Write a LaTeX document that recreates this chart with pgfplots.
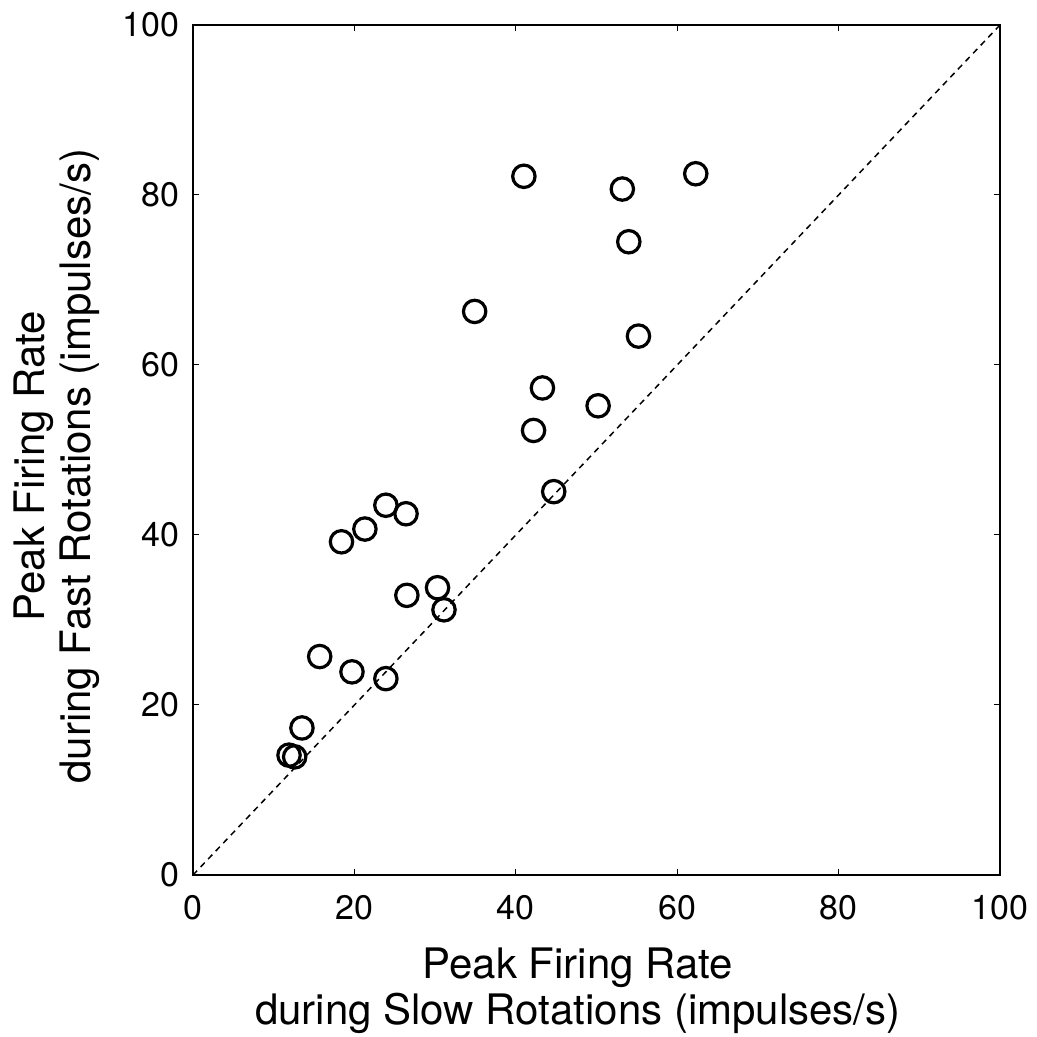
\documentclass[border=0pt]{standalone}
\usepackage{pgfplots}
\pgfplotsset{compat=1.18}
\usepackage{fontspec}
\setmainfont{TeX Gyre Heros}
\begin{document}
\begin{tikzpicture}
\begin{axis}[
  scale only axis,
  width=403.5pt, height=425pt,
  xmin=0, xmax=100, ymin=0, ymax=100,
  xtick={0,20,40,60,80,100}, ytick={0,20,40,60,80,100},
  minor tick num=0,
  tick align=inside,
  major tick length=3pt,
  tick style={line width=0.5pt, black},
  axis line style={line width=1pt},
  /pgf/number format/assume math mode=true,
  ticklabel style={font=\fontsize{17}{20}\selectfont, inner sep=0pt},
  xticklabel shift=10pt,
  yticklabel shift=6.5pt,
  label style={font=\fontsize{21}{23}\selectfont, inner sep=0pt, align=center},
  xlabel={Peak Firing Rate\\during Slow Rotations (impulses/s)},
  ylabel={Peak Firing Rate\\during Fast Rotations (impulses/s)},
  xlabel style={at={([yshift=-36pt]rel axis cs:0.477,0)}, anchor=north},
  ylabel style={at={([xshift=-46.5pt]rel axis cs:0,0.481)}, anchor=south, rotate=0},
]
\addplot[black, line width=0.75pt, dash pattern=on 3pt off 2.5pt] coordinates {(0,0) (100,100)};
\addplot[only marks, mark=o, mark size=5.6pt, mark options={line width=1.6pt, black}] coordinates {
(18.4,39.2) (21.3,40.7) (23.9,43.5) (26.4,42.5)
(26.5,32.9) (30.3,33.8) (31.1,31.2)
(15.7,25.7) (19.7,23.9) (23.9,23.1)
(13.5,17.3) (11.9,14.1) (12.6,13.9)
(41.0,82.2) (53.2,80.7) (62.3,82.5) (54.0,74.5)
(34.9,66.3) (55.2,63.4) (43.3,57.3) (50.2,55.2)
(42.2,52.3) (44.7,45.1)
};
\coordinate (bl) at (rel axis cs:0,0);
\coordinate (tr) at (rel axis cs:1,1);
\end{axis}
\path ([shift={(-96.5pt,-81pt)}]bl) rectangle ([shift={(18.5pt,12.5pt)}]tr);
\end{tikzpicture}
\end{document}
